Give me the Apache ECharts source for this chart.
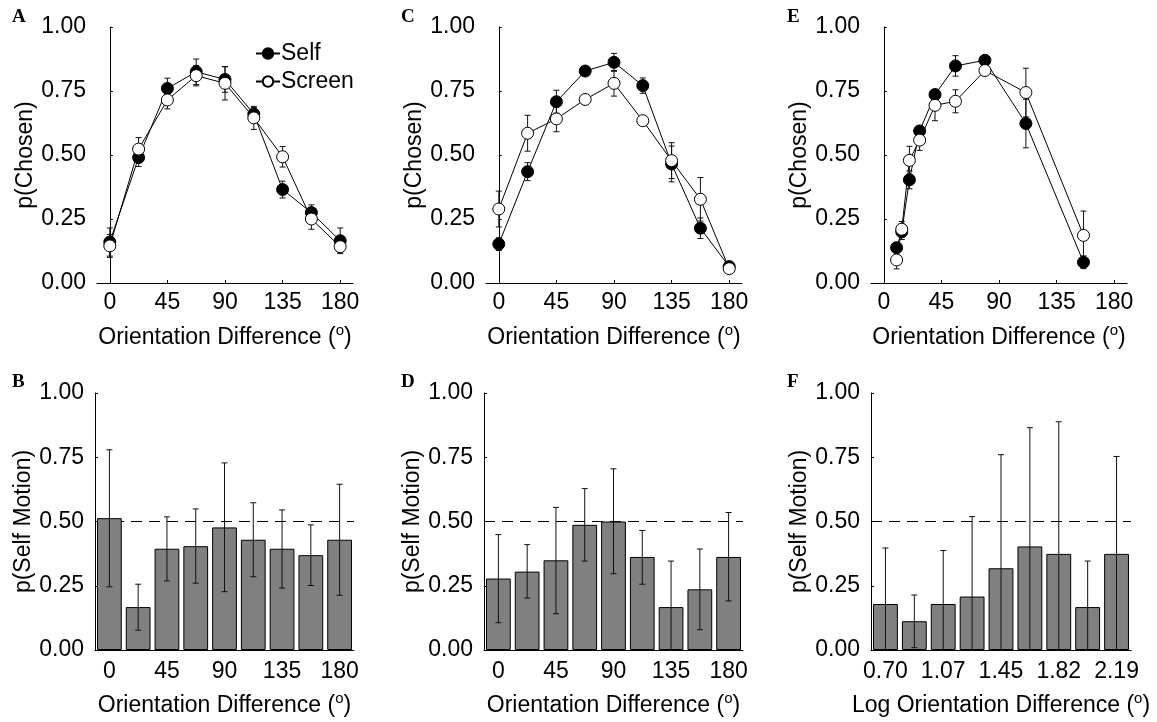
<!DOCTYPE html>
<html>
<head>
<meta charset="utf-8">
<script src="https://cdn.jsdelivr.net/npm/echarts@6/dist/echarts.min.js"></script>
<style>html,body{margin:0;padding:0;background:#fff;}#c{width:1157px;height:722px;}</style>
</head>
<body>
<div id="c"></div>
<script>
// ---------- data ----------
const orientations = [0, 22.5, 45, 67.5, 90, 112.5, 135, 157.5, 180];
const xTicks = [0, 45, 90, 135, 180];

const A_self      = [0.16, 0.49, 0.76, 0.825, 0.795, 0.66, 0.365, 0.275, 0.165];
const A_selfErr   = [0.055, 0.035, 0.04, 0.05, 0.05, 0.025, 0.033, 0.03, 0.05];
const A_screen    = [0.145, 0.523, 0.715, 0.81, 0.78, 0.645, 0.493, 0.25, 0.142];
const A_screenErr = [0.045, 0.045, 0.035, 0.04, 0.065, 0.045, 0.04, 0.04, 0.02];

const C_self      = [0.152, 0.435, 0.708, 0.828, 0.862, 0.771, 0.465, 0.214, 0.064];
const C_selfErr   = [0.025, 0.035, 0.045, 0.01, 0.035, 0.03, 0.07, 0.04, 0.01];
const C_screen    = [0.289, 0.585, 0.641, 0.717, 0.78, 0.634, 0.478, 0.327, 0.056];
const C_screenErr = [0.07, 0.07, 0.05, 0.01, 0.05, 0.01, 0.07, 0.085, 0.01];

const E_x         = [10, 14, 20, 28, 40, 56, 79, 111, 156];
const E_self      = [0.138, 0.2, 0.403, 0.594, 0.736, 0.848, 0.87, 0.623, 0.081];
const E_selfErr   = [0.02, 0.03, 0.035, 0.02, 0.02, 0.04, 0.01, 0.095, 0.025];
const E_screen    = [0.09, 0.21, 0.479, 0.558, 0.694, 0.71, 0.83, 0.744, 0.186];
const E_screenErr = [0.035, 0.03, 0.055, 0.04, 0.06, 0.045, 0.01, 0.095, 0.095];

const B_cats  = ['0', '22.5', '45', '67.5', '90', '112.5', '135', '157.5', '180'];
const B_vals  = [0.513, 0.167, 0.394, 0.404, 0.477, 0.429, 0.394, 0.369, 0.429];
const B_low   = [0.246, 0.077, 0.269, 0.26, 0.227, 0.285, 0.241, 0.251, 0.213];
const B_high  = [0.779, 0.256, 0.518, 0.549, 0.728, 0.573, 0.545, 0.487, 0.645];

const D_cats  = ['0', '22.5', '45', '67.5', '90', '112.5', '135', '157.5', '180'];
const D_vals  = [0.278, 0.305, 0.349, 0.487, 0.5, 0.362, 0.167, 0.236, 0.362];
const D_low   = [0.106, 0.202, 0.141, 0.346, 0.297, 0.256, 0, 0.079, 0.191];
const D_high  = [0.449, 0.41, 0.555, 0.628, 0.705, 0.465, 0.346, 0.393, 0.535];

const F_cats  = ['0.70', '0.89', '1.07', '1.26', '1.45', '1.64', '1.82', '2.01', '2.19'];
const F_vals  = [0.179, 0.112, 0.179, 0.208, 0.318, 0.403, 0.374, 0.167, 0.374];
const F_low   = [0, 0.009, 0, 0, 0, 0, 0, 0, 0];
const F_high  = [0.397, 0.214, 0.387, 0.519, 0.76, 0.865, 0.888, 0.346, 0.753];

const refLine = 0.5;

// ---------- styling ----------
const FONT = 'Liberation Sans, Arial, sans-serif';
const FS = 23;
const topGrids = [
  {left: 97, top: 27, width: 256, height: 256},
  {left: 486, top: 27, width: 256, height: 256},
  {left: 871, top: 27, width: 256, height: 256}
];
const botGrids = [
  {left: 95, top: 393, width: 259, height: 260},
  {left: 484, top: 393, width: 259, height: 260},
  {left: 871, top: 393, width: 260, height: 260}
];

const xNameStyle = {
  fontFamily: FONT, fontSize: FS, color: '#000', lineHeight: 30,
  rich: { sup: { fontFamily: FONT, fontSize: 15, lineHeight: 12, color: '#000', verticalAlign: 'top' } }
};

function yAxisDef(gi, name) {
  return {
    type: 'value', gridIndex: gi, min: 0, max: 1, interval: 0.25,
    name: name, nameLocation: 'middle', nameGap: 58,
    nameTextStyle: {fontFamily: FONT, fontSize: FS, color: '#000'},
    axisLine: {show: true, lineStyle: {color: '#000', width: 1}},
    axisTick: {show: true, inside: true, length: 3, lineStyle: {color: '#000'}},
    axisLabel: {fontFamily: FONT, fontSize: FS, color: '#000', margin: 11,
      formatter: v => v.toFixed(2)},
    splitLine: {show: false}
  };
}

function errRender(params, api) {
  const x = api.value(0), lo = api.value(1), hi = api.value(2);
  const p1 = api.coord([x, hi]);
  const p2 = api.coord([x, lo]);
  const w = 3;
  const st = {stroke: '#111', lineWidth: 1};
  return {
    type: 'group',
    children: [
      {type: 'line', shape: {x1: p1[0], y1: p1[1], x2: p2[0], y2: p2[1]}, style: st},
      {type: 'line', shape: {x1: p1[0] - w, y1: p1[1], x2: p1[0] + w, y2: p1[1]}, style: st},
      {type: 'line', shape: {x1: p2[0] - w, y1: p2[1], x2: p2[0] + w, y2: p2[1]}, style: st}
    ]
  };
}

const xAxes = [], yAxes = [], series = [];
const xName = 'Orientation Difference ({sup|o})';

// top panels
const topSets = [
  {x: orientations, self: A_self, selfErr: A_selfErr, scr: A_screen, scrErr: A_screenErr},
  {x: orientations, self: C_self, selfErr: C_selfErr, scr: C_screen, scrErr: C_screenErr},
  {x: E_x, self: E_self, selfErr: E_selfErr, scr: E_screen, scrErr: E_screenErr}
];
topSets.forEach((s, i) => {
  xAxes.push({
    type: 'value', gridIndex: i, min: -10, max: 190,
    name: xName, nameLocation: 'middle', nameGap: 40, nameTextStyle: xNameStyle,
    axisLine: {show: true, lineStyle: {color: '#000', width: 1}},
    axisTick: {show: true, inside: true, length: 3, customValues: xTicks, lineStyle: {color: '#000'}},
    axisLabel: {fontFamily: FONT, fontSize: FS, color: '#000', margin: 8, customValues: xTicks},
    splitLine: {show: false}
  });
  yAxes.push(yAxisDef(i, 'p(Chosen)'));
  const selfErrData = s.x.map((xv, k) => [xv, s.self[k] - s.selfErr[k], s.self[k] + s.selfErr[k]]);
  const scrErrData = s.x.map((xv, k) => [xv, s.scr[k] - s.scrErr[k], s.scr[k] + s.scrErr[k]]);
  series.push({type: 'custom', xAxisIndex: i, yAxisIndex: i, renderItem: errRender, data: selfErrData, z: 1, silent: true});
  series.push({type: 'custom', xAxisIndex: i, yAxisIndex: i, renderItem: errRender, data: scrErrData, z: 1, silent: true});
  series.push({
    type: 'line', name: 'Self', xAxisIndex: i, yAxisIndex: i,
    data: s.x.map((xv, k) => [xv, s.self[k]]),
    symbol: 'circle', symbolSize: 12, showSymbol: true,
    lineStyle: {color: '#000', width: 1},
    itemStyle: {color: '#000', borderColor: '#000', borderWidth: 1},
    z: 3
  });
  series.push({
    type: 'line', name: 'Screen', xAxisIndex: i, yAxisIndex: i,
    data: s.x.map((xv, k) => [xv, s.scr[k]]),
    symbol: 'circle', symbolSize: 12, showSymbol: true,
    lineStyle: {color: '#000', width: 1},
    itemStyle: {color: '#fff', borderColor: '#000', borderWidth: 1},
    z: 4
  });
});

// bottom panels
const botSets = [
  {cats: B_cats, vals: B_vals, low: B_low, high: B_high, name: 'Orientation Difference ({sup|o})'},
  {cats: D_cats, vals: D_vals, low: D_low, high: D_high, name: 'Orientation Difference ({sup|o})'},
  {cats: F_cats, vals: F_vals, low: F_low, high: F_high, name: 'Log Orientation Difference ({sup|o})'}
];
botSets.forEach((s, j) => {
  const i = j + 3;
  xAxes.push({
    type: 'category', gridIndex: i, data: s.cats,
    name: s.name, nameLocation: 'middle', nameGap: 41, nameTextStyle: xNameStyle,
    axisLine: {show: true, lineStyle: {color: '#000', width: 1}},
    axisTick: {show: false},
    axisLabel: {fontFamily: FONT, fontSize: FS, color: '#000', margin: 10, interval: 1},
    splitLine: {show: false}
  });
  yAxes.push(yAxisDef(i, 'p(Self Motion)'));
  series.push({
    type: 'bar', xAxisIndex: i, yAxisIndex: i, data: s.vals,
    barCategoryGap: '14%',
    itemStyle: {color: '#808080', borderColor: '#000', borderWidth: 1},
    z: 2,
    markLine: {
      silent: true, symbol: 'none', z: 1, animation: false,
      label: {show: false},
      lineStyle: {color: '#000', width: 1, type: [11, 7]},
      data: [{yAxis: refLine}]
    }
  });
  series.push({
    type: 'custom', xAxisIndex: i, yAxisIndex: i, renderItem: errRender, z: 3, silent: true,
    data: s.vals.map((v, k) => [k, s.low[k], s.high[k]])
  });
});

const letterStyle = {fontFamily: 'Liberation Serif, Times New Roman, serif', fontWeight: 'bold', fontSize: 19, fill: '#000'};
const letters = [['A', 12, 8], ['C', 401, 8], ['E', 787, 8], ['B', 12, 373], ['D', 401, 373], ['F', 787, 373]];

const option = {
  animation: false,
  backgroundColor: '#fff',
  grid: topGrids.concat(botGrids).map(g => Object.assign({containLabel: false}, g)),
  xAxis: xAxes,
  yAxis: yAxes,
  legend: {
    data: ['Self', 'Screen'],
    orient: 'vertical', left: 250, top: 37,
    itemWidth: 24, itemHeight: 13, itemGap: 5,
    textStyle: {fontFamily: FONT, fontSize: FS, color: '#000', padding: [0, 0, 0, -4]},
    selectedMode: false
  },
  graphic: letters.map(l => ({type: 'text', left: l[1], top: l[2], style: Object.assign({text: l[0]}, letterStyle)})),
  series: series
};

const chart = echarts.init(document.getElementById('c'), null, {renderer: 'canvas'});
chart.setOption(option);
</script>
</body>
</html>
